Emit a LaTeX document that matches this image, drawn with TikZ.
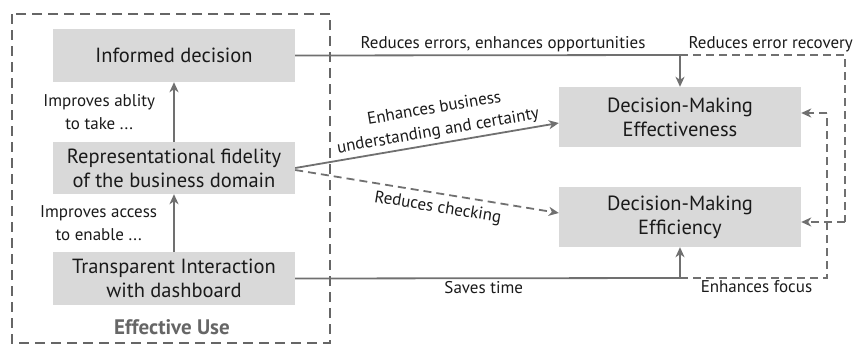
\documentclass[tikz,border=0pt]{standalone}
\usepackage{fontspec}
\setmainfont{PT Sans}
\usetikzlibrary{arrows.meta,calc}
\definecolor{boxfill}{HTML}{D9D9D9}
\definecolor{ln}{HTML}{707070}
\definecolor{txt}{HTML}{1A1A1A}
\definecolor{outer}{HTML}{666666}
\begin{document}
\begin{tikzpicture}[x=1pt,y=-1pt,
  box/.style={fill=boxfill,minimum width=242pt,align=center,text=txt,font=\fontsize{20.5}{24}\selectfont,inner sep=0pt},
  lbl/.style={text=txt,font=\fontsize{17}{23}\selectfont,align=center,inner sep=2pt},
  conn/.style={draw=ln,line width=1.8pt},
  arr/.style={conn,-{Stealth[length=10pt,width=9pt,inset=3pt]}},
  dconn/.style={conn,dash pattern=on 8pt off 5pt},
  darr/.style={dconn,-{Stealth[length=10pt,width=9pt,inset=3pt]}},
]
\useasboundingbox (0,0) rectangle (857,354);
\draw[outer,line width=2.4pt,dash pattern=on 10pt off 6pt] (12,14) rectangle (330,343);
\node[box,minimum height=53pt] (inf) at (174,55.5) {Informed decision};
\node[box,minimum height=52pt] (rep) at (174,168) {Representational fidelity\\of the business domain};
\node[box,minimum height=53pt] (tra) at (174,278.5) {Transparent Interaction\\with dashboard};
\node[text=outer,font=\fontsize{21}{24}\selectfont\bfseries] (eu) at (172,327) {Effective Use};
\node[box,minimum height=60pt] (eff) at (680,117) {Decision-Making\\Effectiveness};
\node[box,minimum height=60pt] (effi) at (680,217) {Decision-Making\\Efficiency};

\draw[arr] (rep.north) -- node[lbl,left=16pt] {Improves ablity\\to take ...} (inf.south);
\draw[arr] (tra.north) -- node[lbl,left=14pt] {Improves access\\to enable ...} (rep.south);

\coordinate (c1) at (680,55);
\coordinate (c2) at (845,55);
\coordinate (c3) at (845,222);
\coordinate (c4) at (680,278);
\coordinate (c5) at (827,278);
\coordinate (c6) at (827,113);

\draw[conn] (inf.east) -- node[lbl,above=0pt,pos=0.54] {Reduces errors, enhances opportunities} (c1);
\draw[arr] (c1) -- (eff.north);
\draw[dconn] (c1) -- node[lbl,above=0pt,pos=0.55] {Reduces error recovery} (c2) -- (c3);
\draw[darr] (c3) -- (effi.east |- c3);

\draw[conn] (tra.east) -- node[lbl,below=0pt,pos=0.49] {Saves time} (c4);
\draw[arr] (c4) -- (effi.south);
\draw[dconn] (c4) -- node[lbl,below=0pt,pos=0.52] {Enhances focus} (c5) -- (c6);
\draw[darr] (c6) -- (eff.east |- c6);

\draw[arr] (rep.east) -- node[lbl,above=1pt,sloped,pos=0.55] {Enhances business\\understanding and certainty} ($(eff.west)+(0,6)$);
\draw[darr] ($(rep.east)+(0,2)$) -- node[lbl,below=4pt,sloped,pos=0.55] {Reduces checking} ($(effi.west)+(0,-4)$);
\end{tikzpicture}
\end{document}
